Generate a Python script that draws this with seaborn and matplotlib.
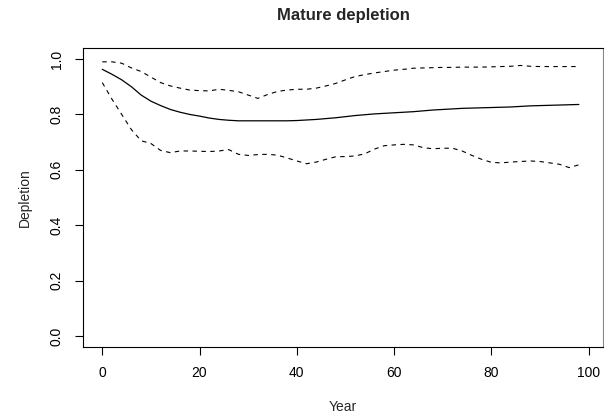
import numpy as np
import pandas as pd
import matplotlib
matplotlib.use("Agg")
import matplotlib.pyplot as plt
import seaborn as sns

years = list(range(0, 100, 2))

median = [0.963, 0.945, 0.925, 0.900, 0.870, 0.848, 0.832, 0.818, 0.808, 0.800,
          0.794, 0.787, 0.782, 0.779, 0.777, 0.777, 0.777, 0.777, 0.777, 0.777,
          0.778, 0.780, 0.782, 0.785, 0.788, 0.792, 0.796, 0.799, 0.802, 0.804,
          0.806, 0.808, 0.810, 0.813, 0.816, 0.818, 0.820, 0.822, 0.823, 0.824,
          0.825, 0.826, 0.827, 0.829, 0.831, 0.832, 0.833, 0.834, 0.835, 0.836]

upper = [0.990, 0.990, 0.985, 0.968, 0.955, 0.935, 0.915, 0.903, 0.895, 0.888,
         0.886, 0.885, 0.891, 0.887, 0.882, 0.870, 0.858, 0.872, 0.883, 0.888,
         0.891, 0.891, 0.895, 0.903, 0.912, 0.925, 0.937, 0.944, 0.950, 0.955,
         0.960, 0.963, 0.967, 0.968, 0.969, 0.970, 0.970, 0.971, 0.971, 0.971,
         0.972, 0.973, 0.974, 0.977, 0.974, 0.973, 0.973, 0.973, 0.973, 0.973]

lower = [0.915, 0.855, 0.800, 0.745, 0.705, 0.695, 0.670, 0.662, 0.668, 0.668,
         0.667, 0.666, 0.668, 0.673, 0.656, 0.652, 0.655, 0.656, 0.653, 0.643,
         0.632, 0.622, 0.628, 0.638, 0.647, 0.648, 0.650, 0.658, 0.675, 0.687,
         0.690, 0.692, 0.690, 0.680, 0.676, 0.678, 0.678, 0.668, 0.652, 0.638,
         0.627, 0.625, 0.628, 0.630, 0.632, 0.630, 0.625, 0.620, 0.608, 0.618]

x_ticks = [0, 20, 40, 60, 80, 100]
y_ticks = [0.0, 0.2, 0.4, 0.6, 0.8, 1.0]

sns.set_style("ticks")
plt.rcParams['font.family'] = ['Liberation Sans', 'DejaVu Sans']

fig = plt.figure(figsize=(6.04, 4.17), dpi=100)
ax = fig.add_axes([83 / 604, 1 - 347 / 417, (603 - 83) / 604, (347 - 48) / 417])

df = pd.DataFrame({"Year": years, "median": median, "upper": upper, "lower": lower})

sns.lineplot(data=df, x="Year", y="median", ax=ax, color="black", linewidth=0.9)
sns.lineplot(data=df, x="Year", y="upper", ax=ax, color="black", linewidth=0.8,
             linestyle=(0, (4, 4)))
sns.lineplot(data=df, x="Year", y="lower", ax=ax, color="black", linewidth=0.8,
             linestyle=(0, (4, 4)))

ax.set_xlim(-3.96, 102.96)
ax.set_ylim(-0.04, 1.04)
ax.set_xticks(x_ticks)
ax.set_xticklabels([str(v) for v in x_ticks])
ax.set_yticks(y_ticks)
ax.set_yticklabels([f"{v:.1f}" for v in y_ticks], rotation=90, va="center")

for s in ax.spines.values():
    s.set_visible(True)
    s.set_linewidth(0.8)
    s.set_color("black")
ax.spines["right"].set_color("#888888")

ax.tick_params(axis="both", direction="out", length=6, width=0.8, pad=8,
               labelsize=10, colors="black")

ax.set_xlabel("Year", fontsize=10, labelpad=14)
ax.set_ylabel("Depletion", fontsize=10, labelpad=13)
ax.set_title("Mature depletion", fontsize=12, fontweight="bold", pad=20)

fig.savefig("out.png", dpi=100, facecolor="white")
